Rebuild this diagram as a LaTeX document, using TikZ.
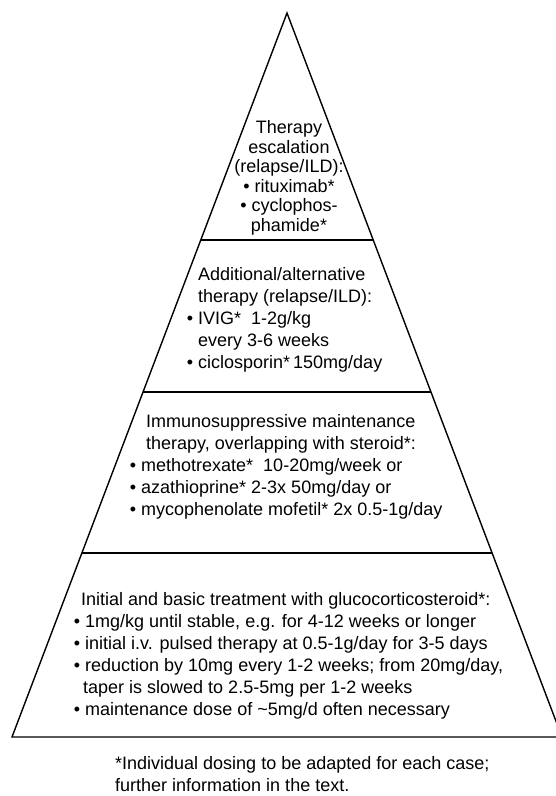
\documentclass[tikz,border=0pt]{standalone}
\usepackage{fontspec}
\setmainfont{Liberation Sans}
\usetikzlibrary{positioning,calc}

\tikzset{
  tier/.style={line width=1.4pt, line join=miter},
  tiertext/.style={inner sep=0pt, font=\fontsize{18}{22}\selectfont, align=left},
}

\begin{document}
\begin{tikzpicture}[x=1pt,y=-1pt]
\useasboundingbox (0,0) rectangle (555,796);
\coordinate (apex) at (287,13);
\coordinate (bl) at (12,737);
\coordinate (br) at (562,737);
% dividers between the tiers
\coordinate (l1) at ($(apex)!0.3135!(bl)$);
\coordinate (r1) at ($(apex)!0.3135!(br)$);
\coordinate (l2) at ($(apex)!0.5235!(bl)$);
\coordinate (r2) at ($(apex)!0.5235!(br)$);
\coordinate (l3) at ($(apex)!0.7459!(bl)$);
\coordinate (r3) at ($(apex)!0.7459!(br)$);
\draw[tier] (apex)--(bl)--(br)--cycle;
\draw[tier] (l1)--(r1);
\draw[tier] (l2)--(r2);
\draw[tier] (l3)--(r3);

\node[tiertext, align=center, font=\fontsize{18}{19.5}\selectfont] (escalation) at (289,178)
  {Therapy\\escalation\\(relapse/ILD):\\• rituximab*\\• cyclophos-\\phamide*};
\node[tiertext, anchor=west] (alternative) at (198,320)
  {Additional/alternative\\
   therapy (relapse/ILD):\\
   \llap{• }IVIG*\ \ 1-2g/kg\\
   every 3-6 weeks\\
   \llap{• }ciclosporin*\,150mg/day};
\node[tiertext, anchor=west] (maintenance) at (141,467)
  {\hspace*{5pt}Immunosuppressive maintenance\\
   \hspace*{5pt}therapy, overlapping with steroid*:\\
   \llap{• }methotrexate*\ \ 10-20mg/week or\\
   \llap{• }azathioprine* 2-3x 50mg/day or\\
   \llap{• }mycophenolate mofetil* 2x 0.5-1g/day};
\node[tiertext, anchor=west] (basic) at (85,655.5)
  {\hspace*{-4pt}Initial and basic treatment with glucocorticosteroid*:\\
   \llap{• }1mg/kg until stable, e.g. for 4-12 weeks or longer\\
   \llap{• }initial i.v. pulsed therapy at 0.5-1g/day for 3-5 days\\
   \llap{• }reduction by 10mg every 1-2 weeks; from 20mg/day,\\
   \hspace*{-2pt}taper is slowed to 2.5-5mg per 1-2 weeks\\
   \llap{• }maintenance dose of \textasciitilde5mg/d often necessary};
\node[tiertext, anchor=west] (footnote) at (115,774)
  {*Individual dosing to be adapted for each case;\\further information in the text.};
\end{tikzpicture}
\end{document}
